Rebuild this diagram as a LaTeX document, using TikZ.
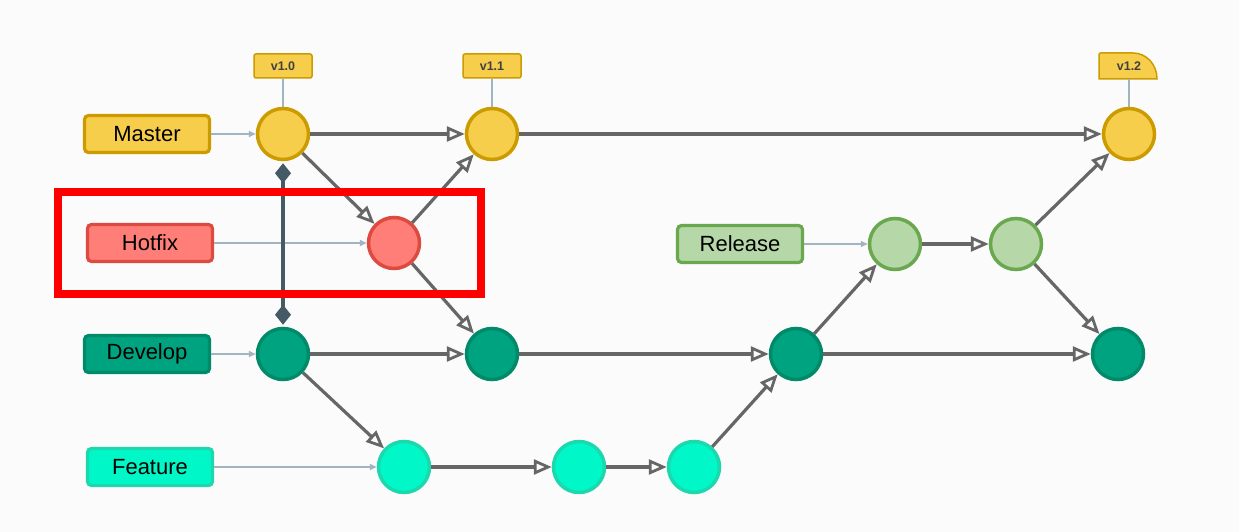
\documentclass[tikz,border=0pt]{standalone}
\usepackage{fontspec}
\setmainfont{Liberation Sans}
\usetikzlibrary{arrows.meta}
\definecolor{bg}{HTML}{FBFBFB}
\definecolor{mfill}{HTML}{F7CE4C}
\definecolor{mdraw}{HTML}{CC9B00}
\definecolor{hfill}{HTML}{FF7F78}
\definecolor{hdraw}{HTML}{DD4A40}
\definecolor{dfill}{HTML}{00A37F}
\definecolor{ddraw}{HTML}{008A6A}
\definecolor{ffill}{HTML}{00F8C8}
\definecolor{fdraw}{HTML}{1CD8AE}
\definecolor{rfill}{HTML}{B6D7A8}
\definecolor{rdraw}{HTML}{6AA84F}
\definecolor{arrowgray}{HTML}{666666}
\definecolor{thin}{HTML}{A0B4C2}
\definecolor{slate}{HTML}{455A64}
\tikzset{
  commit/.style={circle, minimum size=51pt, inner sep=0pt, line width=3.5pt},
  branchlbl/.style={rectangle, rounded corners=4pt, minimum width=125pt, minimum height=37pt, line width=3.2pt, font=\fontsize{22}{24}\selectfont, text=black},
  tag/.style={rectangle, rounded corners=2pt, minimum width=58pt, minimum height=24pt, fill=mfill, draw=mdraw, line width=1.5pt, font=\fontsize{12.5}{14}\selectfont\bfseries, text=black!75},
  flow/.style={draw=arrowgray, line width=3.2pt, -{Triangle[open, length=18pt, width=15pt, line width=2.8pt]}},
  lblline/.style={draw=thin, line width=1.8pt, -{Triangle[length=7pt, width=6pt]}},
  tagline/.style={draw=thin, line width=2.6pt},
  dia/.tip={Diamond[length=20pt, width=16pt, fill=slate]},
}
\begin{document}
\begin{tikzpicture}[x=1pt,y=-1pt]
\fill[bg] (0,0) rectangle (1239,532);
\useasboundingbox (0,0) rectangle (1239,532);

% commits
\node[commit, fill=mfill, draw=mdraw] (m1) at (283,134) {};
\node[commit, fill=mfill, draw=mdraw] (m2) at (492,134) {};
\node[commit, fill=mfill, draw=mdraw] (m3) at (1129,134) {};
\node[commit, fill=hfill, draw=hdraw] (h1) at (394,243) {};
\node[commit, fill=rfill, draw=rdraw] (r1) at (895,244) {};
\node[commit, fill=rfill, draw=rdraw] (r2) at (1016,244) {};
\node[commit, fill=dfill, draw=ddraw] (d1) at (283,354) {};
\node[commit, fill=dfill, draw=ddraw] (d2) at (492,354) {};
\node[commit, fill=dfill, draw=ddraw] (d3) at (796,354) {};
\node[commit, fill=dfill, draw=ddraw] (d4) at (1118,354) {};
\node[commit, fill=ffill, draw=fdraw] (f1) at (404,467) {};
\node[commit, fill=ffill, draw=fdraw] (f2) at (579,467) {};
\node[commit, fill=ffill, draw=fdraw] (f3) at (694,467) {};

% branch labels
\node[branchlbl, fill=mfill, draw=mdraw] (lm) at (147,134) {Master};
\node[branchlbl, fill=hfill, draw=hdraw] (lh) at (150,243) {Hotfix};
\node[branchlbl, fill=rfill, draw=rdraw] (lr) at (740,244) {Release};
\node[branchlbl, fill=dfill, draw=ddraw] (ld) at (147,354) {Develop};
\node[branchlbl, fill=ffill, draw=fdraw] (lf) at (150,467) {Feature};

% tags
\node[tag] (t1) at (283,66) {v1.0};
\node[tag] (t2) at (492,66) {v1.1};
\draw[fill=mfill, draw=mdraw, line width=1.5pt] (1099,79) -- (1099,55) .. controls (1099,53.5) and (1099.5,53) .. (1101,53) -- (1133,53) .. controls (1146,53) and (1157,64) .. (1157,79) -- cycle;
\node[font=\fontsize{12.5}{14}\selectfont\bfseries, text=black!75, minimum width=58pt, minimum height=26pt, inner sep=0pt] (t3) at (1129,66) {v1.2};

% tag lines
\draw[tagline] (t1.south) -- (m1.north);
\draw[tagline] (t2.south) -- (m2.north);
\draw[tagline] (t3.south) -- (m3.north);

% label lines
\draw[lblline] (lm.east) -- (m1.west);
\draw[lblline] (lh.east) -- (h1.west);
\draw[lblline] (lr.east) -- (r1.west);
\draw[lblline] (ld.east) -- (d1.west);
\draw[lblline] (lf.east) -- (f1.west);

% vertical link
\draw[draw=slate, line width=3.2pt, {dia}-{dia}, shorten <=2pt, shorten >=2pt] (m1.south) -- (d1.north);

% flow arrows
\draw[flow] (m1) -- (m2);
\draw[flow] (m2) -- (m3);
\draw[flow] (m1) -- (h1);
\draw[flow] (h1) -- (m2);
\draw[flow] (h1) -- (d2);
\draw[flow] (d1) -- (d2);
\draw[flow] (d2) -- (d3);
\draw[flow] (d3) -- (d4);
\draw[flow] (d1) -- (f1);
\draw[flow] (f1) -- (f2);
\draw[flow] (f2) -- (f3);
\draw[flow] (f3) -- (d3);
\draw[flow] (d3) -- (r1);
\draw[flow] (r1) -- (r2);
\draw[flow] (r2) -- (m3);
\draw[flow] (r2) -- (d4);

% highlight box
\node[draw=red, line width=8pt, minimum width=423pt, minimum height=102pt, inner sep=0pt] (hl) at (269.5,243) {};
\end{tikzpicture}
\end{document}
